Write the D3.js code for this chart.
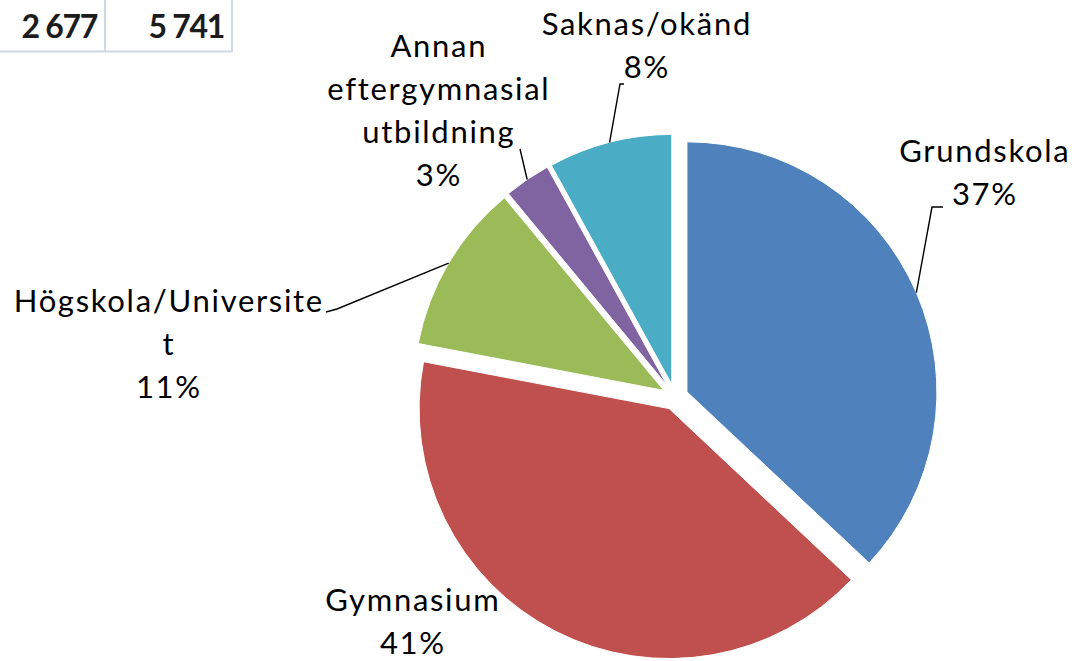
<!DOCTYPE html>
<html>
    <head>
        <title>Utbildningsnivå</title>
        <script src="https://d3js.org/d3.v7.min.js"></script>
        <meta charset="UTF-8">
        <style>
            body { margin: 0; background: #fff; }
            text { font-family: Lato, "Open Sans", sans-serif; }
        </style>
    </head>
    <body>
        <script>
            // data
            var categories = ["Grundskola", "Gymnasium", "Högskola/Universitet", "Annan eftergymnasial utbildning", "Saknas/okänd"];
            var shares = [37, 41, 11, 3, 8];
            var colors = ["#4f81bd", "#c0504d", "#9bbb59", "#8064a2", "#4bacc6"];
            var tableCells = ["2 677", "5 741"];

            var w = 1074, h = 661;
            var cx = 675, cy = 397, radius = 250, explode = 13;
            var fontSize = 31, spacing = 1.7, lineGap = 43;

            // label layout: centre x, first baseline, wrapped lines, leader bend/end points
            var labelLayout = [
                {x: 984, y: 162, lines: ["Grundskola"], leader: [[932, 207], [943, 207]]},
                {x: 412, y: 611, lines: ["Gymnasium"], leader: null},
                {x: 168, y: 312, lines: ["Högskola/Universite", "t"], leader: [[337, 309], [326, 312]]},
                {x: 438, y: 57, lines: ["Annan", "eftergymnasial", "utbildning"], leader: [[520, 149]]},
                {x: 646, y: 35, lines: ["Saknas/okänd"], leader: [[620, 84], [624, 84]]}
            ];

            var svg = d3.select("body")
                    .append("svg")
                    .attr("width", w)
                    .attr("height", h);

            // spreadsheet fragment at top left
            var table = svg.append("g");
            var cellRight = [105, 232];
            table.append("line").attr("x1", 0).attr("x2", 232).attr("y1", 51.5).attr("y2", 51.5)
                    .attr("stroke", "#d0d7e5").attr("stroke-width", 2);
            cellRight.forEach(function (x) {
                table.append("line").attr("x1", x).attr("x2", x).attr("y1", 0).attr("y2", 52)
                        .attr("stroke", "#d0d7e5").attr("stroke-width", 2);
            });
            table.selectAll("text")
                    .data(tableCells)
                    .enter()
                    .append("text")
                    .attr("x", function (d, i) { return cellRight[i] - 8; })
                    .attr("y", 38)
                    .attr("text-anchor", "end")
                    .attr("font-weight", "bold")
                    .attr("font-size", 32)
                    .attr("letter-spacing", -1.3)
                    .attr("fill", "#1c1c1c")
                    .text(function (d) { return d; });

            var pie = d3.pie().sort(null).value(function (d) { return d; });
            var arcs = pie(shares);
            var arc = d3.arc().innerRadius(0).outerRadius(radius);

            function offset(d, dist) {
                var a = (d.startAngle + d.endAngle) / 2;
                return [dist * Math.sin(a), -dist * Math.cos(a)];
            }

            var g = svg.append("g").attr("transform", "translate(" + cx + "," + cy + ")");

            g.selectAll("path")
                    .data(arcs)
                    .enter()
                    .append("path")
                    .attr("d", arc)
                    .attr("transform", function (d) {
                        var o = offset(d, explode);
                        return "translate(" + o[0] + "," + o[1] + ")";
                    })
                    .attr("fill", function (d, i) { return colors[i]; })
                    .attr("stroke", "#fff")
                    .attr("stroke-width", 1);

            // leader lines from the slice edge at its bisector
            arcs.forEach(function (d, i) {
                var lay = labelLayout[i];
                if (!lay.leader) return;
                var start = offset(d, radius + explode);
                var pts = [[cx + start[0], cy + start[1]]].concat(lay.leader);
                svg.append("path")
                        .attr("d", d3.line()(pts))
                        .attr("fill", "none")
                        .attr("stroke", "#000")
                        .attr("stroke-width", 1.4);
            });

            // labels
            var total = d3.sum(shares);
            labelLayout.forEach(function (lay, i) {
                var lines = lay.lines.concat([Math.round(shares[i] / total * 100) + "%"]);
                var t = svg.append("text")
                        .attr("text-anchor", "middle")
                        .attr("font-size", fontSize)
                        .attr("letter-spacing", spacing)
                        .attr("fill", "#000");
                lines.forEach(function (s, k) {
                    t.append("tspan")
                            .attr("x", lay.x + spacing / 2)
                            .attr("y", lay.y + k * lineGap)
                            .text(s);
                });
            });
        </script>
    </body>
</html>
